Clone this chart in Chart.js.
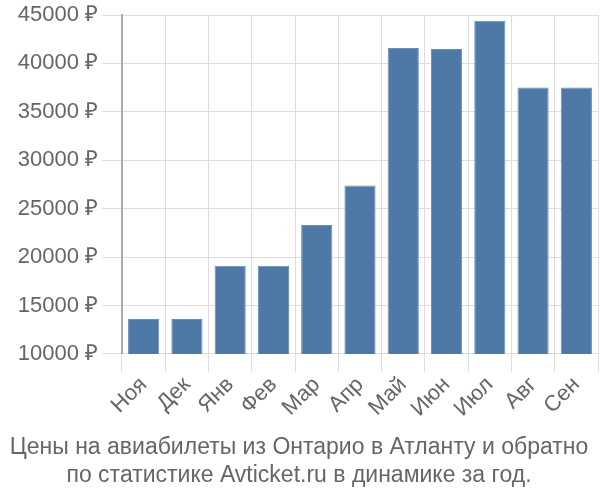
<!DOCTYPE html>
<html>
<head>
<meta charset="utf-8">
<script src="https://cdn.jsdelivr.net/npm/chart.js@4/dist/chart.umd.min.js"></script>
<style>
  html, body { margin: 0; padding: 0; background: #fff; }
  #wrap { width: 600px; height: 500px; }
</style>
</head>
<body>
<div id="wrap"><canvas id="chart"></canvas></div>
<script>
  // months, Nov -> Sep
  var months = ['Ноя', 'Дек', 'Янв', 'Фев', 'Мар', 'Апр', 'Май', 'Июн', 'Июл', 'Авг', 'Сен'];
  var prices = [13600, 13600, 19100, 19100, 23300, 27400, 41600, 41500, 44400, 37500, 37500];
  var titleLines = [
    'Цены на авиабилеты из Онтарио в Атланту и обратно',
    'по статистике Avticket.ru в динамике за год.'
  ];

  var textColor = '#666666';
  var fontFamily = '"Liberation Sans", Arial, sans-serif';

  var ctx = document.getElementById('chart').getContext('2d');
  window.priceChart = new Chart(ctx, {
    type: 'bar',
    data: {
      labels: months,
      datasets: [{
        data: prices,
        backgroundColor: '#4e79a7',
        borderColor: '#6a8fb8',
        borderWidth: 1,
        barPercentage: 0.72,
        categoryPercentage: 1
      }]
    },
    options: {
      responsive: true,
      maintainAspectRatio: false,
      animation: false,
      layout: { padding: { left: 0, right: 2, top: 0, bottom: 10 } },
      plugins: {
        legend: { display: false },
        tooltip: { enabled: false },
        title: {
          display: true,
          position: 'bottom',
          text: titleLines,
          color: textColor,
          font: { family: fontFamily, size: 23, weight: 'normal', lineHeight: 1.22 },
          padding: { top: 0, bottom: 0 }
        }
      },
      scales: {
        x: {
          grid: { color: '#dddddd', lineWidth: 1, tickLength: 18 },
          border: { color: '#dddddd', width: 1 },
          ticks: {
            color: textColor,
            font: { family: fontFamily, size: 22 },
            maxRotation: 45,
            minRotation: 45,
            padding: 0
          },
          afterFit: function (scale) { scale.height = 80; }
        },
        y: {
          min: 10000,
          max: 45000,
          grid: { color: '#dddddd', lineWidth: 1, tickLength: 20 },
          border: { color: '#aaaaaa', width: 2 },
          ticks: {
            stepSize: 5000,
            color: textColor,
            font: { family: fontFamily, size: 22, lineHeight: 1 },
            padding: 4,
            callback: function (v) { return v + ' ₽'; }
          },
          afterFit: function (scale) { scale.width = 122; }
        }
      }
    }
  });
</script>
</body>
</html>
